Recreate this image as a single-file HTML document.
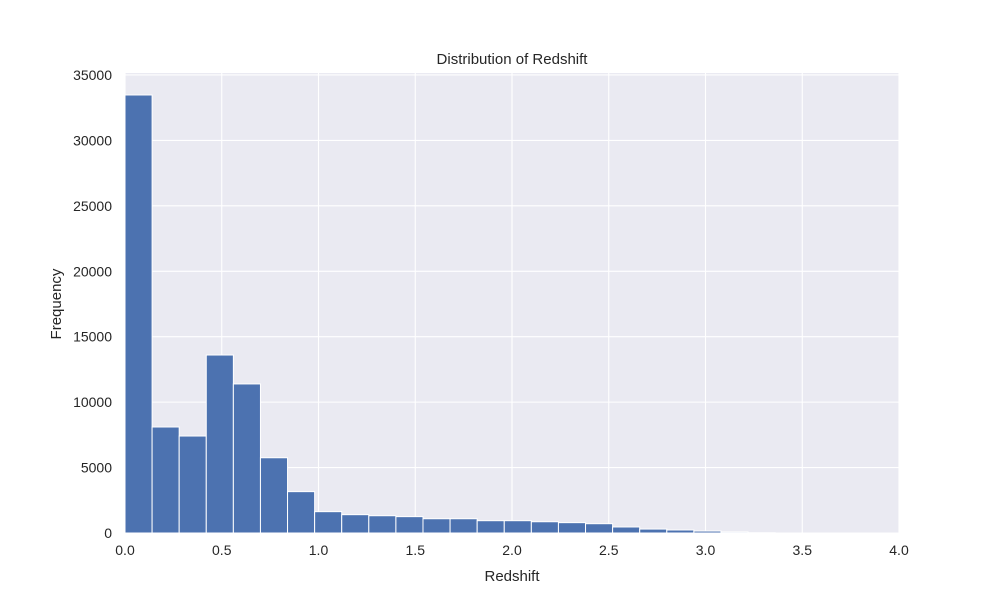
<!DOCTYPE html>
<html><head><meta charset="utf-8"><style>
body{margin:0;background:#fff;font-family:"Liberation Sans","DejaVu Sans",sans-serif}
svg text{font-family:"Liberation Sans","DejaVu Sans",sans-serif;fill:#262626}
</style></head><body>
<svg id="chart" width="1000" height="600" xmlns="http://www.w3.org/2000/svg"></svg>
<script>
const binWidth = 0.14;
const counts = [33470, 8100, 7410, 13600, 11390, 5750, 3160, 1630, 1400, 1320, 1250, 1090, 1090, 940, 940, 860, 790, 710, 460, 300, 230, 150, 80, 20];
const xTicks = [0, 0.5, 1.0, 1.5, 2.0, 2.5, 3.0, 3.5, 4.0];
const xTickLabels = ["0.0","0.5","1.0","1.5","2.0","2.5","3.0","3.5","4.0"];
const yTicks = [0, 5000, 10000, 15000, 20000, 25000, 30000, 35000];

const L=125,R=899,T=73,B=533, xMax=4.0, yMax=35150;
const sx=v=>L+v/xMax*(R-L), sy=v=>B-v/yMax*(B-T);
const svg=document.getElementById('chart'), NS="http://www.w3.org/2000/svg";
function mk(tag,attrs,parent){const e=document.createElementNS(NS,tag);for(const k in attrs)e.setAttribute(k,attrs[k]);(parent||svg).appendChild(e);return e;}
const bg=mk('rect',{x:L,y:T,width:R-L,height:B-T,fill:'#eaeaf2'});


xTicks.forEach((t,i)=>{
  const g=mk('line',{x1:sx(t),x2:sx(t),y1:T,y2:B,stroke:'#fff','stroke-width':1.1});
  
  
  const tx=mk('text',{x:sx(t),y:555,'text-anchor':'middle','font-size':14});
  tx.textContent=xTickLabels[i];
  
  
});
yTicks.forEach(t=>{
  const g=mk('line',{x1:L,x2:R,y1:sy(t),y2:sy(t),stroke:'#fff','stroke-width':1.1});
  
  
  const tx=mk('text',{x:112,y:sy(t)+5,'text-anchor':'end','font-size':14});
  tx.textContent=String(t);
  
  
});
counts.forEach((c,i)=>{
  const x0=sx(i*binWidth),x1=sx((i+1)*binWidth);
  const r=mk('rect',{x:x0,y:sy(c),width:x1-x0,height:B-sy(c),fill:'#4c72b0',stroke:'#fff','stroke-width':1});
  
  
});
const ti=mk('text',{x:512,y:64,'text-anchor':'middle','font-size':15});
ti.textContent='Distribution of Redshift';


const xl=mk('text',{x:512,y:581,'text-anchor':'middle','font-size':15});
xl.textContent='Redshift';


const yl=mk('text',{x:61,y:304,'text-anchor':'middle','font-size':15,transform:'rotate(-90 61 304)'});
yl.textContent='Frequency';


</script>
</body></html>
